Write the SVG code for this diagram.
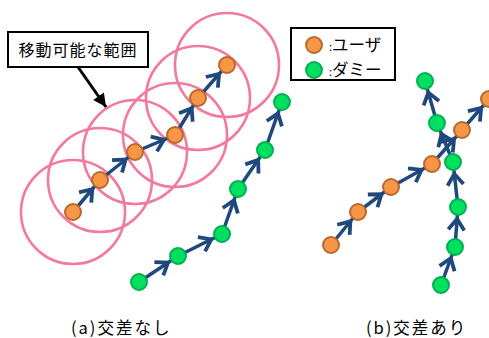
<svg xmlns="http://www.w3.org/2000/svg" width="489" height="338" viewBox="0 0 489 338">
<style>
.range{fill:none;stroke:#F47A9B;stroke-width:2.6}
.conn{stroke:#1F497D;stroke-width:3.5;fill:none;marker-end:url(#ah)}
.user{fill:#F79646;stroke:#B8692F;stroke-width:2}
.dummy{fill:#00E060;stroke:#00B050;stroke-width:2}
.t{font-family:"Noto Sans CJK JP","Noto Sans",sans-serif;fill:#000}
</style>
<defs>
<marker id="ah" markerUnits="userSpaceOnUse" orient="auto" viewBox="-16 -10 32 20" markerWidth="32" markerHeight="20" refX="12" refY="0" overflow="visible">
<path d="M -11 -8 L 0 0 L -11 8" fill="none" stroke="#1F497D" stroke-width="3.8" stroke-linejoin="miter" stroke-miterlimit="10"/>
</marker>
<marker id="bh" markerUnits="userSpaceOnUse" orient="auto" viewBox="-14 -8 16 16" markerWidth="16" markerHeight="16" refX="0" refY="0" overflow="visible">
<path d="M -13 -6.5 L 0 0 L -13 6.5 Z" fill="#000"/>
</marker>
</defs>
<rect width="489" height="338" fill="#fff"/>

<g id="ranges">
<circle class="range" cx="73" cy="212" r="52"/>
<circle class="range" cx="100" cy="180" r="52"/>
<circle class="range" cx="135" cy="152" r="52"/>
<circle class="range" cx="175" cy="135" r="52"/>
<circle class="range" cx="198" cy="98" r="52"/>
<circle class="range" cx="227" cy="65" r="52"/>
</g>

<g id="connectors">
<line class="conn" x1="73" y1="212" x2="100" y2="180"/>
<line class="conn" x1="100" y1="180" x2="135" y2="152"/>
<line class="conn" x1="135" y1="152" x2="175" y2="135"/>
<line class="conn" x1="175" y1="135" x2="198" y2="98"/>
<line class="conn" x1="198" y1="98" x2="227" y2="65"/>
<line class="conn" x1="139" y1="282" x2="178" y2="256"/>
<line class="conn" x1="178" y1="256" x2="222" y2="234"/>
<line class="conn" x1="222" y1="234" x2="238" y2="189"/>
<line class="conn" x1="238" y1="189" x2="265" y2="150"/>
<line class="conn" x1="265" y1="150" x2="282" y2="102"/>
<line class="conn" x1="331" y1="245" x2="358" y2="212"/>
<line class="conn" x1="358" y1="212" x2="391" y2="187"/>
<line class="conn" x1="391" y1="187" x2="432" y2="164"/>
<line class="conn" x1="432" y1="164" x2="462" y2="130"/>
<line class="conn" x1="462" y1="130" x2="489" y2="99"/>
<line class="conn" x1="441" y1="285" x2="455" y2="247"/>
<line class="conn" x1="455" y1="247" x2="458" y2="207"/>
<line class="conn" x1="458" y1="207" x2="453" y2="162"/>
<line class="conn" x1="453" y1="162" x2="437" y2="123"/>
<line class="conn" x1="437" y1="123" x2="425" y2="81"/>
<line x1="78" y1="67" x2="106" y2="107" stroke="#000" stroke-width="3" marker-end="url(#bh)"/>
</g>

<g id="label-range">
<rect x="8" y="32" width="140" height="35" fill="#fff" stroke="#000" stroke-width="2"/>
<text class="t" x="78" y="56" font-size="16" letter-spacing="1" text-anchor="middle">移動可能な範囲</text>
</g>

<g id="legend">
<rect x="291" y="28" width="104" height="52" fill="#fff" stroke="#000" stroke-width="2"/>
<circle class="user" cx="314" cy="45" r="8"/>
<circle class="dummy" cx="314" cy="70" r="8"/>
<text class="t" x="329" y="51" font-size="16.5"><tspan font-size="11">:</tspan>ユーザ</text>
<text class="t" x="329" y="76" font-size="16.5"><tspan font-size="11">:</tspan>ダミー</text>
</g>

<g id="nodes-a">
<circle id="ua1" class="user" cx="73" cy="212" r="8"/>
<circle id="ua2" class="user" cx="100" cy="180" r="8"/>
<circle id="ua3" class="user" cx="135" cy="152" r="8"/>
<circle id="ua4" class="user" cx="175" cy="135" r="8"/>
<circle id="ua5" class="user" cx="198" cy="98" r="8"/>
<circle id="ua6" class="user" cx="227" cy="65" r="8"/>
<circle id="da1" class="dummy" cx="139" cy="282" r="8"/>
<circle id="da2" class="dummy" cx="178" cy="256" r="8"/>
<circle id="da3" class="dummy" cx="222" cy="234" r="8"/>
<circle id="da4" class="dummy" cx="238" cy="189" r="8"/>
<circle id="da5" class="dummy" cx="265" cy="150" r="8"/>
<circle id="da6" class="dummy" cx="282" cy="102" r="8"/>
</g>

<g id="nodes-b">
<circle id="ub1" class="user" cx="331" cy="245" r="8"/>
<circle id="ub2" class="user" cx="358" cy="212" r="8"/>
<circle id="ub3" class="user" cx="391" cy="187" r="8"/>
<circle id="ub4" class="user" cx="432" cy="164" r="8"/>
<circle id="ub5" class="user" cx="462" cy="130" r="8"/>
<circle id="ub6" class="user" cx="489" cy="99" r="8"/>
<circle id="db1" class="dummy" cx="441" cy="285" r="8"/>
<circle id="db2" class="dummy" cx="455" cy="247" r="8"/>
<circle id="db3" class="dummy" cx="458" cy="207" r="8"/>
<circle id="db4" class="dummy" cx="453" cy="162" r="8"/>
<circle id="db5" class="dummy" cx="437" cy="123" r="8"/>
<circle id="db6" class="dummy" cx="425" cy="81" r="8"/>
</g>

<g id="captions">
<text class="t" x="71" y="334" font-size="16.5" letter-spacing="2">(a)交差なし</text>
<text class="t" x="366" y="334" font-size="16.5" letter-spacing="2">(b)交差あり</text>
</g>
</svg>
